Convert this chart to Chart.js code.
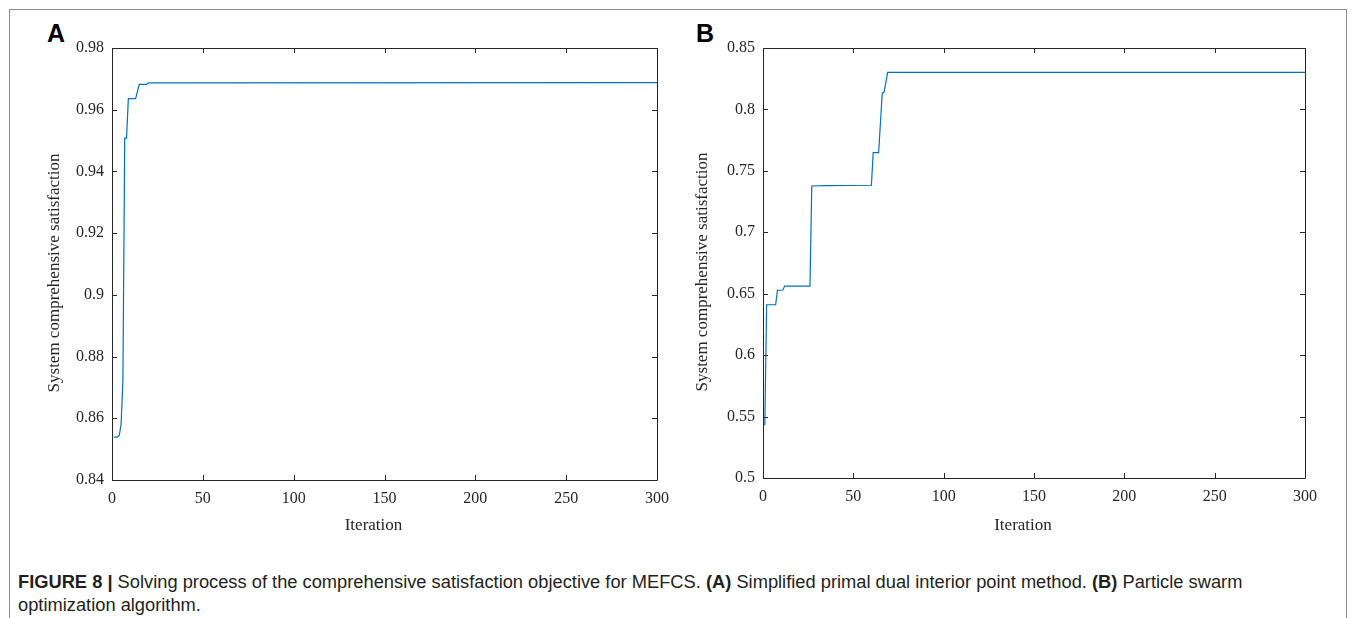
<!DOCTYPE html>
<html>
<head>
<meta charset="utf-8">
<script src="https://cdn.jsdelivr.net/npm/chart.js@4.4.1/dist/chart.umd.min.js"></script>
<style>
  body { margin: 0; background: #fff; width: 1355px; height: 618px; overflow: hidden; position: relative; }
  .frame { position: absolute; left: 9px; top: 9px; width: 1336px; height: 700px; border: 1px solid #8c8c8c; border-bottom: none; }
  .panel { position: absolute; }
  .letter { position: absolute; font-family: "Liberation Sans", Arial, sans-serif; font-weight: bold; font-size: 25px; line-height: 25px; color: #000; }
  .caption { position: absolute; left: 18px; top: 570px; font-family: "Liberation Sans", Arial, sans-serif; font-size: 18.3px; line-height: 23px; color: #231f20; white-space: nowrap; }
  .caption b { font-weight: bold; }
</style>
</head>
<body>
<div class="frame"></div>
<div class="letter" style="left:47px; top:21px;">A</div>
<div class="letter" style="left:696px; top:21px;">B</div>
<canvas id="chartA" class="panel" style="left:40px; top:20px;" width="630" height="520"></canvas>
<canvas id="chartB" class="panel" style="left:690px; top:20px;" width="630" height="520"></canvas>
<div class="caption"><b>FIGURE 8 |</b> Solving process of the comprehensive satisfaction objective for MEFCS. <b>(A)</b> Simplified primal dual interior point method. <b>(B)</b> Particle swarm<br>optimization algorithm.</div>

<script>
// (A) simplified primal dual interior point method, breakpoints of the best-so-far curve
const iterA = [1, 3, 4, 5, 6, 7, 8, 9, 13, 15, 19, 20, 300];
const satA = [0.8539, 0.8539, 0.8545, 0.858, 0.872, 0.9508, 0.9508, 0.9636, 0.9636, 0.9682, 0.9682, 0.9687, 0.9688];

// (B) particle swarm optimization
const iterB = [1, 2, 7, 8, 11, 12, 26, 27, 35, 60, 61, 64, 66, 67, 69, 300];
const satB = [0.543, 0.641, 0.641, 0.6527, 0.653, 0.6562, 0.6562, 0.7377, 0.738, 0.7383, 0.7648, 0.7648, 0.8132, 0.8139, 0.8302, 0.8302];

const xTicks = [0, 50, 100, 150, 200, 250, 300];
const yTicksA = [0.84, 0.86, 0.88, 0.9, 0.92, 0.94, 0.96, 0.98];
const yTicksB = [0.5, 0.55, 0.6, 0.65, 0.7, 0.75, 0.8, 0.85];

const xTitle = "Iteration";
const yTitle = "System comprehensive satisfaction";

const axisColor = "#262626";
const lineColor = "#0072BD";
const serif = '"Liberation Serif", "Times New Roman", serif';

// matlab-style box with inward ticks on all four sides, plus the two axis labels
const boxTicks = {
  id: "boxTicks",
  afterDraw(chart, args, opts) {
    const { ctx, chartArea: a, scales: { x, y } } = chart;
    const len = 5;
    ctx.save();
    ctx.strokeStyle = axisColor;
    ctx.lineWidth = 1;
    ctx.beginPath();
    ctx.rect(Math.round(a.left) + 0.5, Math.round(a.top) + 0.5,
             Math.round(a.right - a.left), Math.round(a.bottom - a.top));
    x.ticks.forEach(t => {
      const px = Math.round(x.getPixelForValue(t.value)) + 0.5;
      ctx.moveTo(px, a.bottom); ctx.lineTo(px, a.bottom - len);
      ctx.moveTo(px, a.top); ctx.lineTo(px, a.top + len);
    });
    y.ticks.forEach(t => {
      const py = Math.round(y.getPixelForValue(t.value)) + 0.5;
      ctx.moveTo(a.left, py); ctx.lineTo(a.left + len, py);
      ctx.moveTo(a.right, py); ctx.lineTo(a.right - len, py);
    });
    ctx.stroke();

    ctx.fillStyle = axisColor;
    ctx.font = "17px " + serif;
    ctx.textAlign = "center";
    ctx.textBaseline = "middle";
    ctx.fillText(xTitle, (a.left + a.right) / 2 + opts.xShift, a.bottom + opts.xGap);
    ctx.translate(a.left - opts.yGap, (a.top + a.bottom) / 2 + opts.yShift);
    ctx.rotate(-Math.PI / 2);
    ctx.fillText(yTitle, 0, 0);
    ctx.restore();
  }
};

function makePanel(id, iters, values, yTicks, opt) {
  const ctx = document.getElementById(id).getContext("2d");
  return new Chart(ctx, {
    type: "line",
    plugins: [boxTicks],
    data: {
      datasets: [{
        data: iters.map((it, i) => ({ x: it, y: values[i] })),
        borderColor: lineColor,
        borderWidth: 1.2,
        pointRadius: 0,
        tension: 0,
        fill: false
      }]
    },
    options: {
      responsive: false,
      animation: false,
      events: [],
      layout: { padding: { left: 0, top: 28, right: opt.padRight, bottom: 0 } },
      plugins: {
        legend: { display: false },
        tooltip: { enabled: false },
        boxTicks: { xGap: opt.xGap, xShift: -11, yGap: opt.yGap, yShift: 9 }
      },
      scales: {
        x: {
          type: "linear",
          min: 0,
          max: 300,
          afterBuildTicks: s => { s.ticks = xTicks.map(v => ({ value: v })); },
          afterFit: s => { s.height = opt.xHeight; s.paddingLeft = 0; s.paddingRight = 0; },
          grid: { display: false, drawTicks: false },
          border: { display: false },
          ticks: { color: axisColor, padding: 9, font: { family: serif, size: 16 }, maxRotation: 0, callback: v => String(v) }
        },
        y: {
          min: yTicks[0],
          max: yTicks[yTicks.length - 1],
          afterBuildTicks: s => { s.ticks = yTicks.map(v => ({ value: v })); },
          afterFit: s => { s.width = opt.yWidth; },
          grid: { display: false, drawTicks: false },
          border: { display: false },
          ticks: { color: axisColor, padding: 8, font: { family: serif, size: 16 }, callback: v => String(+v.toFixed(2)) }
        }
      }
    }
  });
}

makePanel("chartA", iterA, satA, yTicksA, { padRight: 13, xHeight: 60, yWidth: 72, xGap: 46, yGap: 57 });
makePanel("chartB", iterB, satB, yTicksB, { padRight: 15, xHeight: 62, yWidth: 73, xGap: 48, yGap: 60 });
</script>
</body>
</html>
